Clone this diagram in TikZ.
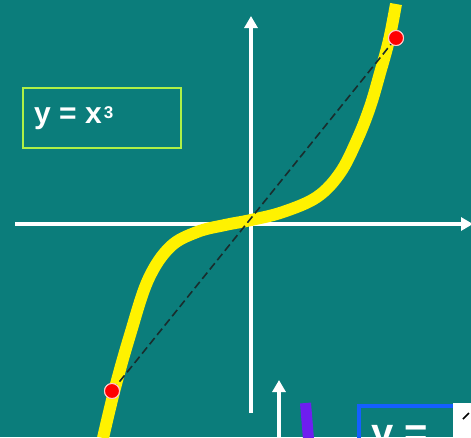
\documentclass[tikz,border=0pt]{standalone}
\usepackage{fontspec}
\setmainfont{Liberation Sans}
\usetikzlibrary{arrows.meta}
\definecolor{bg}{RGB}{11,125,123}
\definecolor{lime}{RGB}{175,240,70}
\definecolor{dashc}{RGB}{25,45,45}
\definecolor{bluebox}{RGB}{20,95,255}
\definecolor{violetc}{RGB}{110,30,240}
\tikzset{
  axis/.style={draw=white, line width=3.5pt, -{Triangle[length=12pt,width=13pt]}},
  cubic/.style={draw=yellow, line width=12pt, line cap=butt},
  chord/.style={draw=dashc, line width=1.6pt, dash pattern=on 8pt off 4pt},
  reddot/.style={circle, fill=red, draw=white!80!red, line width=1pt, minimum size=15pt, inner sep=0pt},
  label/.style={draw=lime, line width=1.8pt, text=white, font=\bfseries\fontsize{30}{30}\selectfont, minimum width=158pt, minimum height=60pt, anchor=north west, inner sep=0pt}
}
\begin{document}
\begin{tikzpicture}[x=1pt,y=-1pt]
\useasboundingbox (0,0) rectangle (471,437);
\fill[bg] (0,0) rectangle (471,437);
\clip (0,0) rectangle (471,437);
% axes
\coordinate (yb) at (251,413);
\coordinate (yt) at (251,16);
\coordinate (xl) at (15,224);
\coordinate (xr) at (473,224);
\draw[axis] (yb) -- (yt);
\draw[axis] (xl) -- (xr);
% cubic curve
\draw[cubic] plot[smooth, tension=0.6] coordinates {(103,438) (115,388) (130,335) (148,280) (170,247) (197,232) (225,225) (251,220) (283,212) (317,197) (340,173) (357,140) (370,107) (380,73) (389,40) (396,4)};
% chord and points
\node[reddot] (p1) at (112,391) {};
\node[reddot] (p2) at (396,38) {};
\draw[chord] (p1.center) -- (p2.center);
\node[reddot] at (p1) {};
\node[reddot] at (p2) {};
% label
\node[label] (lab) at (22,87) {};
\node[anchor=base west, text=white, font=\bfseries\fontsize{30}{30}\selectfont, inner sep=0pt] (labtxt) at (34,123) {y = x\kern2pt\raisebox{5pt}{\fontsize{17}{17}\selectfont 3}};
% bottom partial elements
\coordinate (ab) at (279,445);
\coordinate (at) at (279,380);
\draw[axis] (ab) -- (at);
\coordinate (v1) at (305.5,403);
\coordinate (v2) at (309,445);
\draw[violetc, line width=11pt] (v1) -- (v2);
\node[draw=bluebox, line width=4pt, anchor=north west, minimum width=140pt, minimum height=60pt] (bb) at (357,404) {};
\node[anchor=base west, text=white, font=\bfseries\fontsize{40}{40}\selectfont, inner sep=0pt] (btxt) at (371,446) {y =};
\node[fill=white, anchor=north west, minimum width=25pt, minimum height=40pt, inner sep=0pt] (wb) at (453,403) {};
\coordinate (m1) at (463,419);
\coordinate (m2) at (469,413);
\draw[black, line width=1.5pt] (m1) -- (m2);
\end{tikzpicture}
\end{document}
